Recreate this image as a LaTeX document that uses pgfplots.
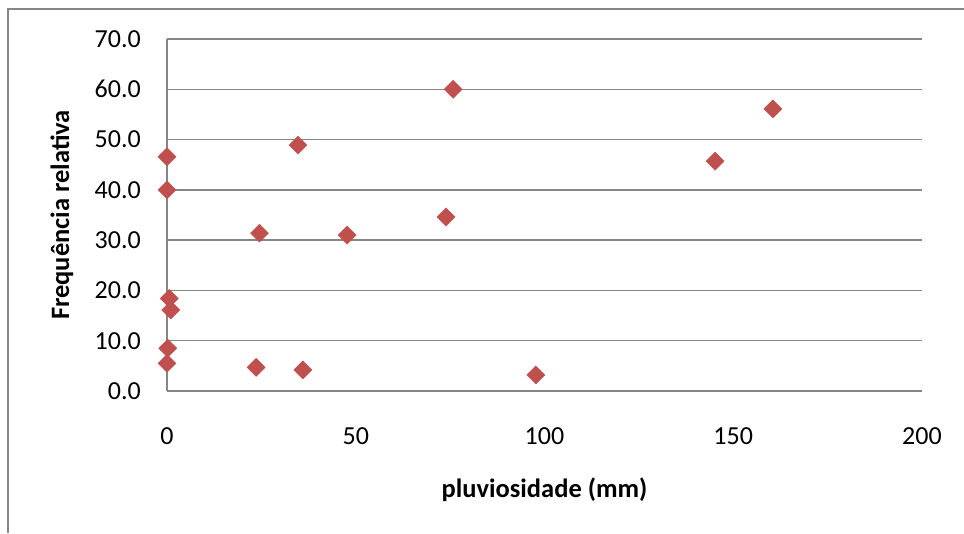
\documentclass[border=0pt]{standalone}
\usepackage{pgfplots}
\pgfplotsset{compat=1.18}
\usepackage{fontspec}
\setmainfont{Carlito}
\definecolor{mk}{HTML}{C0504D}
\definecolor{gl}{HTML}{868686}
\begin{document}
\begin{tikzpicture}
\path[use as bounding box] (-167pt,-142pt) rectangle (797pt,391pt);
\draw[gl, line width=2.5pt] (-159pt,-142pt) -- (-159pt,382pt) -- (797pt,382pt);
\begin{axis}[
  scale only axis,
  width=755pt, height=352pt,
  xmin=0, xmax=200, ymin=0, ymax=70,
  xtick={0,50,100,150,200},
  ytick={0,10,...,70},
  yticklabel={\pgfmathprintnumber[fixed,fixed zerofill,precision=1]{\tick}},
  /pgf/number format/assume math mode=true,
  axis lines*=left,
  x axis line style={draw=none},
  y axis line style={gl, line width=1.5pt, -},
  ymajorgrids,
  grid style={gl, line width=1.5pt},
  major tick length=0pt,
  tick label style={font=\fontsize{26}{30}\selectfont, black, inner sep=0pt},
  yticklabel style={anchor=east, xshift=-26pt},
  xticklabel style={anchor=center, yshift=-45pt},
  xlabel={\textbf{pluviosidade (mm)}},
  ylabel={\textbf{Frequência relativa}},
  label style={font=\fontsize{26.5}{30}\selectfont},
  xlabel style={at={([yshift=-99pt]axis description cs:0.5,0)}, anchor=center},
  ylabel style={at={([xshift=-105pt]axis description cs:0,0.5)}, anchor=center},
  clip=false,
]
\addplot[only marks, mark=square*, mark size=6.4pt, mark options={rotate=45, fill=mk, draw=mk}] coordinates {
(0,46.6) (0,40.0) (24.5,31.4) (0.6,18.4) (1.0,16.1) (0.2,8.5) (0,5.5) (23.6,4.7)
(34.7,48.9) (36.0,4.2) (47.7,31.0) (73.9,34.6) (75.8,60.0) (97.7,3.2) (145.2,45.7) (160.5,56.1)
};
\end{axis}
\end{tikzpicture}
\end{document}
